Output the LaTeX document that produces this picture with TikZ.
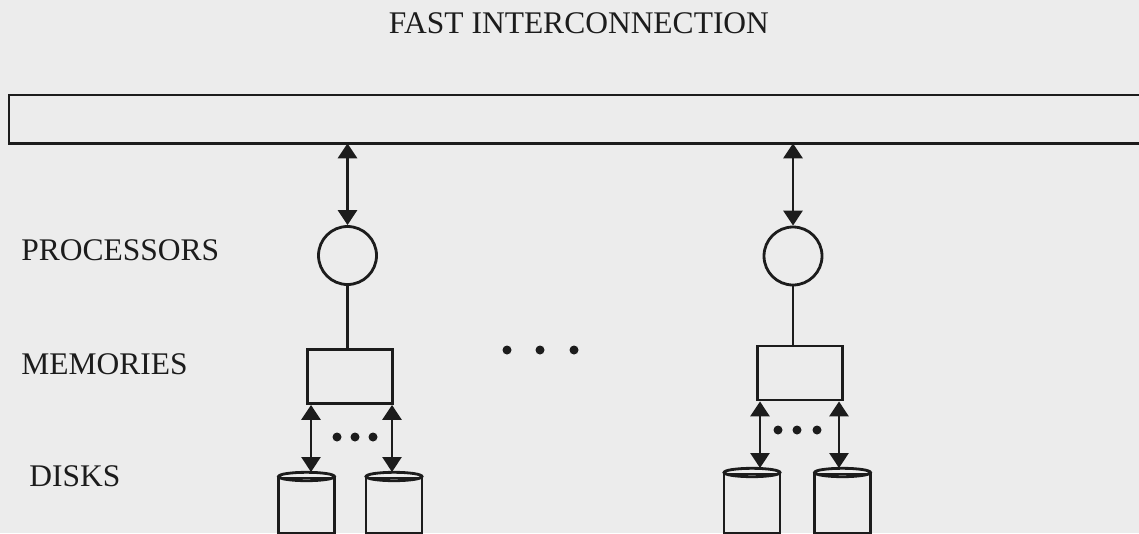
\documentclass[tikz,border=0pt]{standalone}
\usepackage{fontspec}
\setmainfont{Liberation Serif}
\usetikzlibrary{arrows.meta}

\definecolor{paper}{RGB}{236,236,236}
\definecolor{ink}{RGB}{28,28,28}

\begin{document}
\begin{tikzpicture}[x=1pt,y=-1pt,>={Triangle[length=15pt,width=19pt]},line width=2.8pt,color=ink,
	every node/.style={font=\fontsize{31.5}{36}\selectfont,text=ink,inner sep=0pt},
	proc/.style={circle,draw,minimum size=58pt},
	mem/.style={rectangle,draw,minimum width=85pt,minimum height=54pt},
	disk/.style={rectangle,draw,minimum width=56pt,anchor=north},
	dot/.style={circle,fill,minimum size=9pt}]

\useasboundingbox (0,0) rectangle (1139,533);
\fill[paper] (0,0) rectangle (1139,533);
\clip (0,0) rectangle (1139,533);

% bus runs off the right edge
\node[draw,anchor=north west,outer sep=0pt,minimum width=1160pt,minimum height=48.3pt] (bus) at (9,95) {};
\node[anchor=base] (title) at (579,33) {FAST INTERCONNECTION};

\node[anchor=base west] (lproc) at (20,260) {PROCESSORS};
\node[anchor=base west] (lmem)  at (20,374) {MEMORIES};
\node[anchor=base west] (ldisk) at (28,486) {DISKS};

	% left node
	\node[proc] (cpu1) at (347.5,255.5) {};
	\node[mem]  (mem1) at (350,376.5)   {};
	\node[disk,minimum height=55pt] (d11) at (306.5,476.5) {};
	\node[disk,minimum height=55pt] (d12) at (394,476.5)   {};
	\coordinate (t11) at (311,472);
	\coordinate (t12) at (392,472);

	% right node
	\node[proc] (cpu2) at (793,256)     {};
	\node[mem]  (mem2) at (800,373)     {};
	\node[disk,minimum height=59pt] (d21) at (752,472.5)   {};
	\node[disk,minimum height=59pt] (d22) at (842.5,472.5) {};
	\coordinate (t21) at (760,468);
	\coordinate (t22) at (839,468);

	\foreach \d in {d11,d12,d21,d22}
		\draw (\d.north) ellipse [x radius=28pt,y radius=4.2pt];

	\draw[<->] (cpu1 |- bus.south) -- (cpu1.north);
	\draw[<->] (cpu2 |- bus.south) -- (cpu2.north);
	\draw (cpu1.south) -- (cpu1.south |- mem1.north);
	\draw (cpu2.south) -- (cpu2.south |- mem2.north);

	\foreach \t/\m in {t11/mem1,t12/mem1,t21/mem2,t22/mem2}
		\draw[<->] (\t |- \m.south) -- (\t);

	% ellipses
	\foreach \x [count=\i] in {507,540,574}
		\node[dot] (dm\i) at (\x,350) {};
	\foreach \x [count=\i] in {337,355,373}
		\node[dot] (dl\i) at (\x,437) {};
	\foreach \x [count=\i] in {778,797,817}
		\node[dot] (dr\i) at (\x,430) {};

\end{tikzpicture}
\end{document}
